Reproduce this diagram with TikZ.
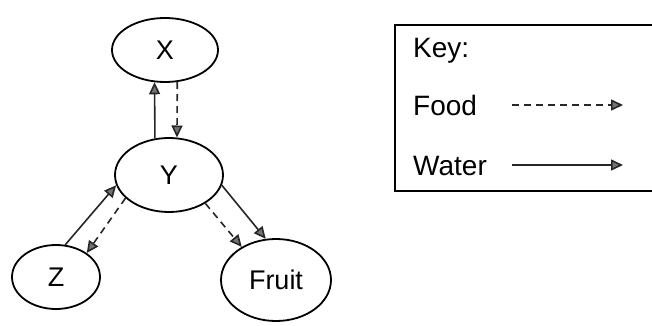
\documentclass[tikz,border=0pt]{standalone}
\usepackage{fontspec}
\setmainfont{Liberation Sans}
\usetikzlibrary{shapes.geometric,arrows.meta}
\begin{document}
\begin{tikzpicture}[x=1pt,y=-1pt,
  state/.style={draw=black,line width=1.8pt,ellipse,inner sep=0pt,font=\fontsize{27}{32}\selectfont},
  flow/.style={draw=black!85,line width=1.6pt,-{Triangle[length=12pt,width=11pt,fill=black!55]}},
  foodflow/.style={flow,dash pattern=on 7pt off 5pt},
  keytext/.style={anchor=west,inner sep=0pt,font=\fontsize{28}{32}\selectfont}]
\useasboundingbox (0,0) rectangle (652,326);
\node[state,minimum width=106pt,minimum height=64pt] (X) at (165,50) {X};
\node[state,minimum width=108pt,minimum height=74pt] (Y) at (169,175) {Y};
\node[state,minimum width=88pt,minimum height=64pt] (Z) at (56,277) {Z};
\node[state,minimum width=110pt,minimum height=82pt] (F) at (276,280) {Fruit};
% water (solid)
\draw[flow] (Y.111) -- (X.252);
\draw[flow] (Z.74) -- (Y.191);
\draw[flow] (Y.349) -- (F.104);
% food (dashed)
\draw[foodflow] (X.291) -- (Y.78);
\draw[foodflow] (Y.208) -- (Z.38);
\draw[foodflow] (Y.322) -- (F.136);
% key
\draw[line width=1.8pt] (652,25) -- (395,25) -- (395,191) -- (652,191);
\node[keytext] (k) at (413,51) {Key:};
\node[keytext] (kf) at (413,105) {Food};
\node[keytext] (kw) at (413,166) {Water};
\coordinate (fs) at (512,105);
\coordinate (fe) at (623,105);
\coordinate (ws) at (512,165);
\coordinate (we) at (623,165);
\draw[foodflow] (fs) -- (fe);
\draw[flow] (ws) -- (we);
\end{tikzpicture}
\end{document}
